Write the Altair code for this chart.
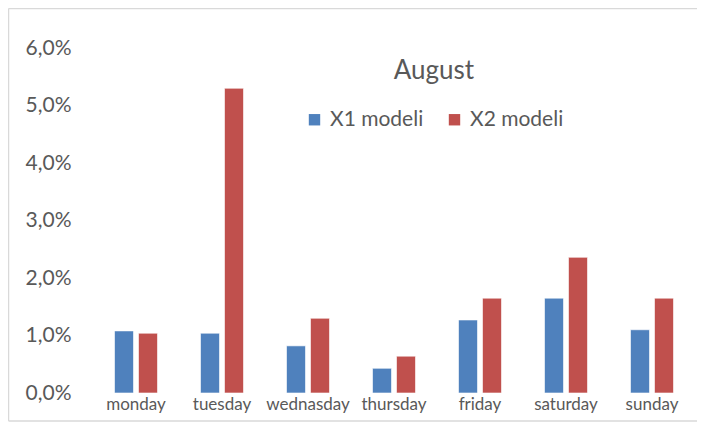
import altair as alt
import pandas as pd

days = ["monday", "tuesday", "wednasday", "thursday", "friday", "saturday", "sunday"]
x1_values = [0.0108, 0.0104, 0.0082, 0.0043, 0.0127, 0.0165, 0.0110]
x2_values = [0.0104, 0.0530, 0.0130, 0.0064, 0.0165, 0.0236, 0.0165]
series_names = ["X1 modeli", "X2 modeli"]
y_ticks = [0.0, 0.01, 0.02, 0.03, 0.04, 0.05, 0.06]
colors = ["#4F81BD", "#C0504D"]

rows = []
for d, a, b in zip(days, x1_values, x2_values):
    rows.append({"day": d, "series": series_names[0], "value": a})
    rows.append({"day": d, "series": series_names[1], "value": b})
df = pd.DataFrame(rows)

FONT = "Lato"
GRAY = "#595959"
W, H = 602, 345

bars = alt.Chart(df).mark_bar(stroke="#ffffff", strokeWidth=1, strokeOpacity=0.6).encode(
    x=alt.X("day:N", sort=days, title=None,
            scale=alt.Scale(paddingInner=0.5, paddingOuter=0.25),
            axis=alt.Axis(labelAngle=0, ticks=False, domain=False, labelPadding=3,
                          labelFont=FONT, labelFontSize=17, labelColor=GRAY)),
    xOffset=alt.XOffset("series:N", sort=series_names,
                        scale=alt.Scale(paddingInner=0.208, paddingOuter=0)),
    y=alt.Y("value:Q", title=None,
            scale=alt.Scale(domain=[0, 0.06], nice=False),
            axis=alt.Axis(values=y_ticks, grid=False, ticks=False, domain=False,
                          labelPadding=22, labelFont=FONT, labelFontSize=21, labelColor=GRAY,
                          labelExpr="replace(format(datum.value, '.1%'), '.', ',')")),
    color=alt.Color("series:N", sort=series_names,
                    scale=alt.Scale(domain=series_names, range=colors),
                    legend=alt.Legend(title="August", orient="none", direction="horizontal",
                                      legendX=211, legendY=10,
                                      titleAnchor="middle", titleFont=FONT, titleFontSize=26,
                                      titleFontWeight="normal", titleColor=GRAY, titlePadding=25,
                                      labelFont=FONT, labelFontSize=21, labelColor=GRAY,
                                      symbolType="square", symbolSize=130, symbolStrokeWidth=0,
                                      labelOffset=5, columnPadding=20)),
)

frame_data = alt.Data(values=[{}])
left_edge = alt.Chart(frame_data).mark_rule(stroke="#d9d9d9", strokeWidth=1.5).encode(
    x=alt.value(-84.5), y=alt.value(-39.5), y2=alt.value(H + 28),
)
top_edge = alt.Chart(frame_data).mark_rule(stroke="#d9d9d9", strokeWidth=1.5).encode(
    x=alt.value(-84.5), x2=alt.value(W + 2), y=alt.value(-39.5),
)
bottom_edge = alt.Chart(frame_data).mark_rule(stroke="#d9d9d9", strokeWidth=1.5).encode(
    x=alt.value(-84.5), x2=alt.value(W + 2), y=alt.value(H + 28),
)

chart = alt.layer(left_edge, top_edge, bottom_edge, bars).properties(
    width=W, height=H,
    autosize=alt.AutoSizeParams(type="none"),
    padding={"left": 85, "top": 40, "right": 2, "bottom": 30},
    background="white",
).configure_view(strokeWidth=0, stroke=None)

chart.save("out.html", embed_options={"renderer": "svg", "actions": False})
